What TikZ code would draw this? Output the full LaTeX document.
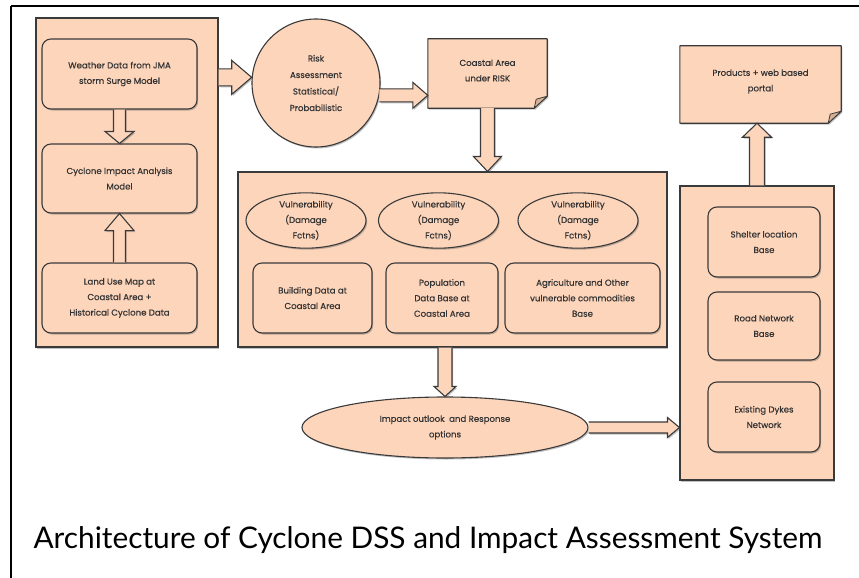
\documentclass[tikz,border=0pt]{standalone}
\usepackage{fontspec}
\setmainfont{Poppins}[FakeBold=0.4]
\newfontfamily\captionfont{Lato}
\usetikzlibrary{shapes.geometric, calc, shadows}
\definecolor{peach}{HTML}{FDD5BB}
\definecolor{fold}{HTML}{D6B197}
\definecolor{edge}{HTML}{3A3A3A}
\newcommand{\boxtext}{\fontsize{8.6}{15.5}\selectfont}

% block arrow: from, to, shaft half width, head half width, head length
\newcommand{\blockarrow}[5]{%
  \coordinate (ba-h) at ($(#2)!#5!(#1)$);
  \draw[barrow] ($(#1)!#3!90:(#2)$) -- ($(ba-h)!#3!90:(#2)$) -- ($(ba-h)!#4!90:(#2)$)
    -- (#2) -- ($(ba-h)!#4!-90:(#2)$) -- ($(ba-h)!#3!-90:(#2)$) -- ($(#1)!#3!-90:(#2)$);
}
% dog-eared outline round a note node
\newcommand{\noteshape}[1]{%
  \draw[noteline] (#1.north west) -- (#1.north east) -- ([yshift=12pt]#1.south east)
    -- ([xshift=-13pt]#1.south east) -- (#1.south west) -- cycle;
  \draw[foldline] ([yshift=12pt]#1.south east) -- ([xshift=-11pt,yshift=9pt]#1.south east)
    -- ([xshift=-13pt]#1.south east) -- cycle;
}

\begin{document}
\begin{tikzpicture}[x=1pt, y=-1pt,
    boxshadow/.style={drop shadow={shadow xshift=1.2pt, shadow yshift=-1.5pt, opacity=0.35, fill=black!70}},
    container/.style={rectangle, draw=edge, line width=1.1pt, fill=peach, boxshadow},
    rbox/.style={rectangle, rounded corners=9pt, draw=edge, line width=1.1pt, fill=peach, boxshadow,
      align=center, font=\boxtext, text=black!80, inner sep=0pt},
    vul/.style={ellipse, draw=edge, line width=1.1pt, fill=peach, boxshadow,
      align=center, font=\boxtext, text=black!80, inner sep=0pt},
    notebox/.style={rectangle, align=center, font=\boxtext, inner sep=0pt},
    noteline/.style={draw=edge, line width=1.1pt, fill=peach, line join=round, boxshadow},
    foldline/.style={draw=edge, line width=0.8pt, fill=fold, line join=round},
    barrow/.style={draw=edge, line width=1.1pt, fill=peach, line join=miter, boxshadow}
]
\useasboundingbox (0,0) rectangle (859,578);

% frame
\draw[line width=2pt] (11,5.7) -- (870,5.7);
\draw[line width=2pt] (11,5.7) -- (11,590);

% left column
\node[container, minimum width=182pt, minimum height=329pt] (leftbox) at (127,182.5) {};
\node[rbox, minimum width=155pt, minimum height=70pt] (weather) at (119.5,74)
  {Weather Data from JMA\\storm Surge Model};
\node[rbox, minimum width=155pt, minimum height=69pt] (cyclone) at (119.5,178.5)
  {Cyclone Impact Analysis\\Model};
\node[rbox, minimum width=155pt, minimum height=70pt] (landuse) at (119.5,298)
  {Land Use Map at\\Coastal Area +\\Historical Cyclone Data};

% risk and coastal area
\node[circle, draw=edge, line width=1.1pt, fill=peach, boxshadow, minimum size=128pt,
  align=center, font=\fontsize{8.6}{16.5}\selectfont, text=black!80, inner sep=0pt] (risk) at (316,83)
  {Risk\\Assessment\\Statistical/\\Probabilistic};
\node[notebox, minimum width=119pt, minimum height=69pt] (coast) at (487.5,73.5) {};
\noteshape{coast}
\node[font=\boxtext, text=black!80, align=center] at ([yshift=3pt]coast.center) {Coastal Area\\under RISK};

% vulnerability block
\node[container, minimum width=429pt, minimum height=175pt] (mid) at (452.5,259.5) {};
\node[vul, minimum width=120pt, minimum height=55pt] (vul1) at (306,220.5)
  {Vulnerability\\(Damage\\Fctns)};
\node[vul, minimum width=120pt, minimum height=55pt] (vul2) at (438.5,220.5)
  {Vulnerability\\(Damage\\Fctns)};
\node[vul, minimum width=120pt, minimum height=55pt] (vul3) at (578,220.5)
  {Vulnerability\\(Damage\\Fctns)};
\node[rbox, minimum width=119pt, minimum height=70pt] (building) at (312.5,298)
  {Building Data at\\Coastal Area};
\node[rbox, minimum width=112pt, minimum height=70pt] (population) at (442,298)
  {Population\\Data Base at\\Coastal Area};
\node[rbox, minimum width=155pt, minimum height=70pt] (agri) at (582.5,298)
  {Agriculture and Other\\vulnerable commodities\\Base};

\node[vul, minimum width=286pt, minimum height=61pt] (impact) at (445,427.5)
  {Impact outlook\ \ and Response\\options};

% right column
\node[container, minimum width=154pt, minimum height=294pt] (rightbox) at (757,333) {};
\node[rbox, minimum width=112pt, minimum height=70pt] (shelter) at (764,242)
  {Shelter location\\Base};
\node[rbox, minimum width=112pt, minimum height=68pt] (road) at (764,326)
  {Road Network\\Base};
\node[rbox, minimum width=112pt, minimum height=70pt] (dykes) at (764,417)
  {Existing Dykes\\Network};
\node[notebox, minimum width=161pt, minimum height=77pt] (products) at (760.5,84.5) {};
\noteshape{products}
\node[font=\boxtext, text=black!80, align=center] at ([yshift=3pt]products.center) {Products + web based\\portal};

% arrows
\coordinate (a1) at (leftbox.east |- risk.175);
\coordinate (a2) at (coast.west |- risk.-11);
\coordinate (a3) at (coast.south |- mid.north);
\coordinate (a4) at (impact.north |- mid.south);
\coordinate (a5) at (rightbox.west |- impact.east);
\coordinate (a6) at (rightbox.north |- products.south);
\blockarrow{weather.south}{cyclone.north}{6pt}{14.5pt}{12pt}
\blockarrow{landuse.north}{cyclone.south}{6pt}{14.5pt}{17pt}
\blockarrow{a1}{risk.175}{8.5pt}{17pt}{20pt}
\blockarrow{risk.-11}{a2}{6.5pt}{13pt}{15pt}
\blockarrow{coast.south}{a3}{7pt}{14pt}{15pt}
\blockarrow{a4}{impact.north}{7pt}{11pt}{10pt}
\blockarrow{impact.east}{a5}{5.5pt}{10pt}{12pt}
\blockarrow{rightbox.north}{a6}{7.5pt}{14.5pt}{14pt}

\node[anchor=base west, font=\captionfont\fontsize{29.8}{32}\selectfont] (caption) at (30,548)
  {Architecture of Cyclone DSS and Impact Assessment System};
\end{tikzpicture}
\end{document}
